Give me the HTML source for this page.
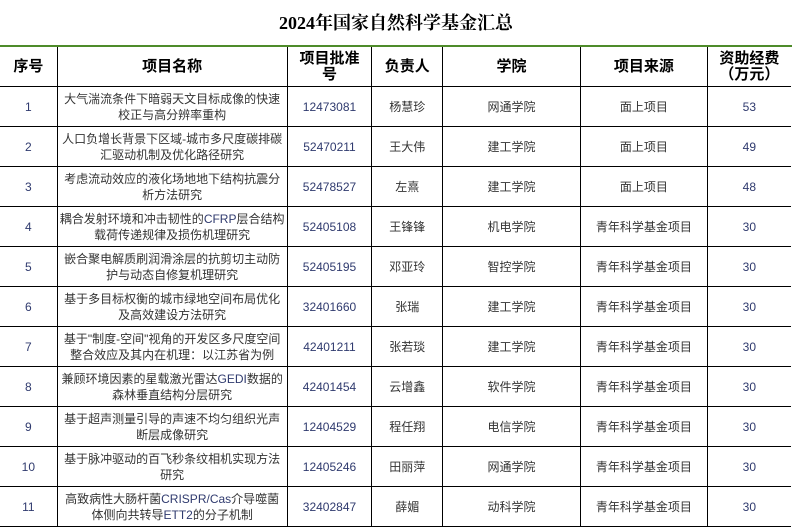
<!DOCTYPE html>
<html><head><meta charset="utf-8"><style>
body{margin:0;width:792px;height:531px;background:#fff;overflow:hidden;position:relative;font-family:"Liberation Sans","Noto Sans CJK SC",sans-serif;}
.t{position:absolute;top:9px;left:0;width:792px;text-align:center;font:bold 18px "Liberation Serif","Noto Serif CJK SC",serif;color:#000;}
.g{position:absolute;top:45px;left:0;width:792px;height:2px;background:#4e8b2a;}
table{position:absolute;top:47px;left:-1px;border-collapse:collapse;table-layout:fixed;}
td{border:1px solid #000;text-align:center;vertical-align:middle;font-size:12px;line-height:16px;color:#333;padding:0;height:39px;overflow:hidden;white-space:nowrap;}
tr:first-child td{border-top:none;font-weight:bold;font-size:15px;color:#000;line-height:16px;}
td:last-child{border-right:none;}
.n{color:#2f3a6e;}
</style></head><body>
<div class="t">2024年国家自然科学基金汇总</div>
<div class="g"></div>
<table>
<colgroup><col style="width:58px"><col style="width:230px"><col style="width:85px"><col style="width:71px"><col style="width:139px"><col style="width:127px"><col style="width:84px"></colgroup>
<tr><td>序号</td><td>项目名称</td><td>项目批准<br>号</td><td>负责人</td><td>学院</td><td>项目来源</td><td>资助经费<br>（万元）</td></tr>
<tr><td class="n">1</td><td>大气湍流条件下暗弱天文目标成像的快速<br>校正与高分辨率重构</td><td class="n">12473081</td><td>杨慧珍</td><td>网通学院</td><td>面上项目</td><td class="n">53</td></tr>
<tr><td class="n">2</td><td>人口负增长背景下区域-城市多尺度碳排碳<br>汇驱动机制及优化路径研究</td><td class="n">52470211</td><td>王大伟</td><td>建工学院</td><td>面上项目</td><td class="n">49</td></tr>
<tr><td class="n">3</td><td>考虑流动效应的液化场地地下结构抗震分<br>析方法研究</td><td class="n">52478527</td><td>左熹</td><td>建工学院</td><td>面上项目</td><td class="n">48</td></tr>
<tr><td class="n">4</td><td>耦合发射环境和冲击韧性的<span class="n">CFRP</span>层合结构<br>载荷传递规律及损伤机理研究</td><td class="n">52405108</td><td>王锋锋</td><td>机电学院</td><td>青年科学基金项目</td><td class="n">30</td></tr>
<tr><td class="n">5</td><td>嵌合聚电解质刷润滑涂层的抗剪切主动防<br>护与动态自修复机理研究</td><td class="n">52405195</td><td>邓亚玲</td><td>智控学院</td><td>青年科学基金项目</td><td class="n">30</td></tr>
<tr><td class="n">6</td><td>基于多目标权衡的城市绿地空间布局优化<br>及高效建设方法研究</td><td class="n">32401660</td><td>张瑞</td><td>建工学院</td><td>青年科学基金项目</td><td class="n">30</td></tr>
<tr><td class="n">7</td><td>基于"制度-空间"视角的开发区多尺度空间<br>整合效应及其内在机理：以江苏省为例</td><td class="n">42401211</td><td>张若琰</td><td>建工学院</td><td>青年科学基金项目</td><td class="n">30</td></tr>
<tr><td class="n">8</td><td>兼顾环境因素的星载激光雷达<span class="n">GEDI</span>数据的<br>森林垂直结构分层研究</td><td class="n">42401454</td><td>云增鑫</td><td>软件学院</td><td>青年科学基金项目</td><td class="n">30</td></tr>
<tr><td class="n">9</td><td>基于超声测量引导的声速不均匀组织光声<br>断层成像研究</td><td class="n">12404529</td><td>程任翔</td><td>电信学院</td><td>青年科学基金项目</td><td class="n">30</td></tr>
<tr><td class="n">10</td><td>基于脉冲驱动的百飞秒条纹相机实现方法<br>研究</td><td class="n">12405246</td><td>田丽萍</td><td>网通学院</td><td>青年科学基金项目</td><td class="n">30</td></tr>
<tr><td class="n">11</td><td>高致病性大肠杆菌<span class="n">CRISPR/Cas</span>介导噬菌<br>体侧向共转导<span class="n">ETT2</span>的分子机制</td><td class="n">32402847</td><td>薛媚</td><td>动科学院</td><td>青年科学基金项目</td><td class="n">30</td></tr>
</table>
</body></html>
